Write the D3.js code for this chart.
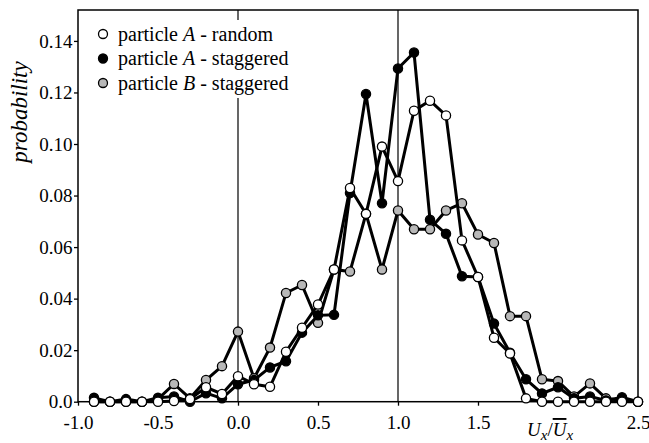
<html>
<script src='https://d3js.org/d3.v7.min.js'></script>
<style>
  body {margin: 0; background: white;}
</style>
<body onload='init()'>
<svg width=649 height=443></svg>
<script>
// bin centres of U_x / mean U_x
const bins = [-0.9,-0.8,-0.7,-0.6,-0.5,-0.4,-0.3,-0.2,-0.1,0.0,0.1,0.2,0.3,0.4,0.5,0.6,0.7,0.8,0.9,1.0,
              1.1,1.2,1.3,1.4,1.5,1.6,1.7,1.8,1.9,2.0,2.1,2.2,2.3,2.4,2.5];
// particle A - random (open circles)
const randomA = [0,0,0,0,0,0.0003,0.001,0.0056,0.003,0.0099,0.0068,0.0058,0.0194,0.0287,0.0377,0.0513,0.0829,0.0729,0.099,0.0856,
                 0.1129,0.1168,0.1111,0.0626,0.0484,0.0248,0.0187,0.0013,0,0,0,0,0,0,0];
// particle A - staggered (black)
const staggeredA = [0.0015,0,0.001,0,0.0015,0.002,0,0.0033,0.0013,0.0068,0.0084,0.0133,0.0157,0.0268,0.0335,0.0337,0.081,0.1194,0.077,0.1293,
                    0.1355,0.0706,0.0652,0.0487,0.0484,0.0303,0.019,0.0087,0.0032,0.0056,0.0013,0.002,0.0005,0.0017,0];
// particle B - staggered (grey)
const staggeredB = [0,0,0,0,0.001,0.0069,0.0013,0.0084,0.0138,0.0272,0.0091,0.021,0.0422,0.0453,0.0306,0.0513,0.0505,0.0729,0.0513,0.0742,
                    0.0669,0.0669,0.0742,0.077,0.0649,0.0616,0.0332,0.0332,0.0087,0.008,0.002,0.0071,0.0013,0.0005,0];

const yTicks = [0,0.02,0.04,0.06,0.08,0.10,0.12,0.14];
const xTicks = [-1.0,-0.5,0.0,0.5,1.0,1.5,2.0,2.5];
const legendLabels = [['particle ','A',' - random'],['particle ','A',' - staggered'],['particle ','B',' - staggered']];

const serif = "'Liberation Serif', 'DejaVu Serif', serif";

function init() {
  const svg = d3.select('svg');
  const left = 78, right = 638, top = 10, bottom = 401.7;
  const x = d3.scaleLinear().domain([-1, 2.5]).range([left, right]);
  const y = d3.scaleLinear().domain([0, 0.152]).range([bottom, top]);

  // axes
  const yAxis = svg.append('g').attr('transform', 'translate(' + left + ',0)')
    .call(d3.axisLeft(y).tickValues(yTicks).tickSize(4).tickPadding(1.5)
      .tickFormat(d => d === 0 ? '0.0' : d.toFixed(2)));
  const xAxis = svg.append('g').attr('transform', 'translate(0,' + bottom + ')')
    .call(d3.axisBottom(x).tickValues(xTicks).tickSize(4).tickPadding(10)
      .tickFormat(d => d === 2 ? '' : d.toFixed(1)));
  [yAxis, xAxis].forEach(g => {
    g.attr('font-family', serif).attr('font-size', 19);
    g.select('.domain').remove();
    g.selectAll('line').attr('stroke', 'black').attr('stroke-width', 1.3);
    g.selectAll('text').attr('fill', 'black').style('font-family', serif).style('font-size', '19px');
  });

  // frame and reference lines
  svg.append('rect').attr('x', left).attr('y', top).attr('width', right - left).attr('height', bottom - top)
    .attr('fill', 'none').attr('stroke', 'black').attr('stroke-width', 1.5);
  svg.selectAll('line.ref').data([0, 1]).enter().append('line').attr('class', 'ref')
    .attr('x1', d => x(d)).attr('x2', d => x(d)).attr('y1', top).attr('y2', bottom)
    .attr('stroke', 'black').attr('stroke-width', 1.2);

  // legend
  svg.append('rect').attr('x', 86).attr('y', 20).attr('width', 222).attr('height', 78).attr('fill', 'white');
  const fills = ['white', 'black', '#b8b8b8'];
  const lg = svg.append('g').selectAll('g').data(legendLabels).enter().append('g')
    .attr('transform', (d, i) => 'translate(103,' + (34 + i * 24.5) + ')');
  lg.append('circle').attr('r', 4.5).attr('fill', (d, i) => fills[i]).attr('stroke', 'black').attr('stroke-width', 1.3);
  const lt = lg.append('text').attr('x', 15).attr('dy', '0.33em')
    .style('font-family', serif).style('font-size', '20px');
  lt.append('tspan').text(d => d[0]);
  lt.append('tspan').style('font-style', 'italic').text(d => d[1]);
  lt.append('tspan').text(d => d[2]);

  // series: grey, black, then white on top
  const series = [[staggeredB, '#b8b8b8'], [staggeredA, 'black'], [randomA, 'white']];
  const line = d3.line().x(d => x(d[0])).y(d => y(d[1]));
  series.forEach(s => {
    const pts = bins.map((b, i) => [b, s[0][i]]);
    const g = svg.append('g');
    g.append('path').datum(pts).attr('d', line).attr('fill', 'none')
      .attr('stroke', 'black').attr('stroke-width', 3);
    g.selectAll('circle').data(pts).enter().append('circle')
      .attr('cx', d => x(d[0])).attr('cy', d => y(d[1])).attr('r', 4.6)
      .attr('fill', s[1]).attr('stroke', 'black').attr('stroke-width', 1.3);
  });

  // axis titles
  svg.append('text').attr('transform', 'translate(27,112) rotate(-90)').attr('text-anchor', 'middle')
    .style('font-family', serif).style('font-size', '23px').style('font-style', 'italic').text('probability');
  const xt = svg.append('text').attr('x', 527).attr('y', 436)
    .style('font-family', serif).style('font-size', '19px').style('font-style', 'italic');
  xt.append('tspan').text('U');
  xt.append('tspan').attr('dy', 4).style('font-size', '15px').text('x');
  xt.append('tspan').attr('dy', -4).style('font-style', 'normal').text('/');
  xt.append('tspan').style('text-decoration', 'overline').text('U');
  xt.append('tspan').attr('dy', 4).style('font-size', '15px').text('x');
}
</script>
</body>
</html>
